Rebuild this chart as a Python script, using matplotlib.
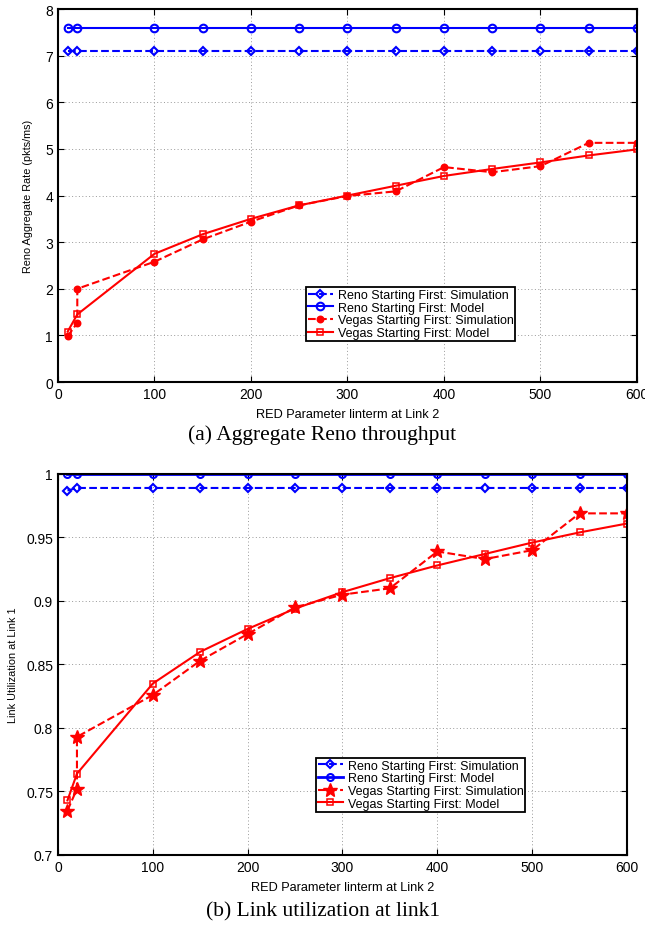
import numpy as np
import matplotlib
matplotlib.use("Agg")
import matplotlib.pyplot as plt
from matplotlib.ticker import FixedLocator

# x values (linterm), the sim runs have two points at 20
X_MODEL = [10, 20, 100, 150, 200, 250, 300, 350, 400, 450, 500, 550, 600]
X_SIM = [10, 20, 20, 100, 150, 200, 250, 300, 350, 400, 450, 500, 550, 600]

# (a) aggregate Reno throughput
reno_sim_rate = [7.1] * len(X_MODEL)
reno_model_rate = [7.6] * len(X_MODEL)
vegas_sim_rate = [0.98, 1.27, 2.0, 2.58, 3.06, 3.44, 3.79, 3.99, 4.09, 4.61,
                  4.5, 4.63, 5.13, 5.13]
vegas_model_rate = [1.08, 1.45, 2.75, 3.17, 3.5, 3.79, 4.0, 4.21, 4.42, 4.57,
                    4.71, 4.86, 4.99]

# (b) link utilization at link 1
reno_sim_util = [0.987] + [0.989] * (len(X_MODEL) - 1)
reno_model_util = [1.0] * len(X_MODEL)
vegas_sim_util = [0.735, 0.752, 0.793, 0.826, 0.853, 0.874, 0.895, 0.905,
                  0.910, 0.939, 0.933, 0.940, 0.969, 0.969]
vegas_model_util = [0.743, 0.764, 0.835, 0.860, 0.878, 0.894, 0.907, 0.918,
                    0.928, 0.937, 0.946, 0.954, 0.961]

LABELS = ["Reno Starting First: Simulation", "Reno Starting First: Model",
          "Vegas Starting First: Simulation", "Vegas Starting First: Model"]

SANS = ["Liberation Sans", "DejaVu Sans"]
SERIF = ["Liberation Serif", "DejaVu Serif"]


def style_axes(ax):
    for s in ax.spines.values():
        s.set_linewidth(1.5)
    ax.tick_params(direction="in", top=True, right=True, length=4,
                   width=0.8, labelsize=10)
    for lab in ax.get_xticklabels() + ax.get_yticklabels():
        lab.set_family(SANS)
    ax.grid(True, linestyle=(0, (1, 2.5)), color="#999999", linewidth=0.7)
    ax.set_axisbelow(True)


def add_legend(ax, anchor):
    leg = ax.legend(loc="lower left", bbox_to_anchor=anchor,
                    prop={"family": SANS, "size": 9.0}, frameon=True,
                    fancybox=False, edgecolor="black", handlelength=2.0,
                    borderpad=0.15, labelspacing=0.05, handletextpad=0.4,
                    borderaxespad=0, framealpha=1)
    leg.get_frame().set_linewidth(1.3)
    return leg


fig = plt.figure(figsize=(6.45, 9.29), dpi=100)

# ---- (a)
ax1 = fig.add_axes([0.0899, 0.5877, 0.8977, 0.4015])
ax1.plot(X_MODEL, reno_sim_rate, "--", color="b", marker="D", mfc="none",
         ms=4.5, mew=1.5, lw=1.5, label=LABELS[0])
ax1.plot(X_MODEL, reno_model_rate, "-", color="b", marker="o", mfc="none",
         ms=5.5, mew=1.5, lw=1.5, label=LABELS[1])
ax1.plot(X_SIM, vegas_sim_rate, "--", color="r", marker="o", mfc="r",
         ms=4.5, mew=1.2, lw=1.5, label=LABELS[2])
ax1.plot(X_MODEL, vegas_model_rate, "-", color="r", marker="s", mfc="none",
         ms=5, mew=1.1, lw=1.5, label=LABELS[3])
ax1.set_xlim(0, 600)
ax1.set_ylim(0, 8)
ax1.xaxis.set_major_locator(FixedLocator(np.arange(0, 601, 100)))
ax1.yaxis.set_major_locator(FixedLocator(np.arange(0, 9, 1)))
style_axes(ax1)
ax1.set_xlabel("RED Parameter linterm at Link 2", family=SANS, fontsize=9.2,
               labelpad=5)
ax1.set_ylabel("Reno Aggregate Rate (pkts/ms)", family=SANS, fontsize=7.8,
               labelpad=9)
add_legend(ax1, (0.428, 0.11))

fig.text(0.5, 0.532, "(a) Aggregate Reno throughput", family=SERIF,
         fontsize=15.5, ha="center", va="center")

# ---- (b)
ax2 = fig.add_axes([0.0899, 0.0786, 0.8822, 0.4101])
ax2.plot(X_MODEL, reno_sim_util, "--", color="b", marker="D", mfc="none",
         ms=4.5, mew=1.5, lw=1.5, label=LABELS[0])
ax2.plot(X_MODEL, reno_model_util, "-", color="b", marker="o", mfc="none",
         ms=5, mew=1.5, lw=2.0, label=LABELS[1])
ax2.plot(X_SIM, vegas_sim_util, "--", color="r", marker="*", mfc="r",
         ms=10, mew=1.0, lw=1.5, label=LABELS[2])
ax2.plot(X_MODEL, vegas_model_util, "-", color="r", marker="s", mfc="none",
         ms=5, mew=1.1, lw=1.5, label=LABELS[3])
ax2.set_xlim(0, 600)
ax2.set_ylim(0.7, 1.0)
ax2.xaxis.set_major_locator(FixedLocator(np.arange(0, 601, 100)))
ax2.yaxis.set_major_locator(FixedLocator([0.7, 0.75, 0.8, 0.85, 0.9, 0.95, 1.0]))
ax2.set_yticklabels(["0.7", "0.75", "0.8", "0.85", "0.9", "0.95", "1"])
style_axes(ax2)
ax2.set_xlabel("RED Parameter linterm at Link 2", family=SANS, fontsize=9.2,
               labelpad=5)
ax2.set_ylabel("Link Utilization at Link 1", family=SANS, fontsize=7.8,
               labelpad=6)
add_legend(ax2, (0.453, 0.114))

fig.text(0.5, 0.018, "(b) Link utilization at link1", family=SERIF,
         fontsize=15.5, ha="center", va="center")

fig.savefig("out.png", dpi=100)
